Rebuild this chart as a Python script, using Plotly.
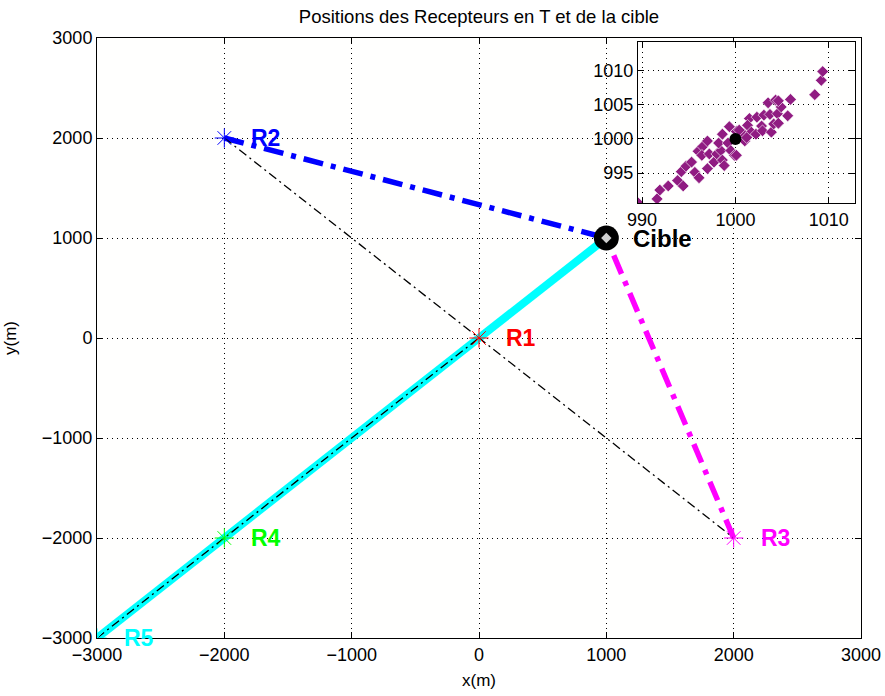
import plotly.graph_objects as go

# --- data ---
rec_names = ["R1", "R2", "R3", "R4", "R5"]
rec_x = [0, -2000, 2000, -2000, -3000]
rec_y = [0, 2000, -2000, -2000, -3000]
rec_colors = ["#ff0000", "#0000ff", "#ff00ff", "#00ff00", "#00ffff"]

cible_name = "Cible"
cible_x = 1000
cible_y = 1000

# receivers linked to the target by thick lines
link_names = ["R5", "R2", "R3"]
link_dash = ["solid", "20px,8px,5px,8px", "20px,8px,5px,8px"]

# thin black dash-dot lines (pairs of receivers)
thin_pairs = [("R2", "R3"), ("R5", "R1")]

# inset: estimated target positions
est_x = [989.5, 991.6, 991.9, 992.8, 993.8, 994.4, 994.2, 994.7, 995.3, 995.65,
         996.1, 996.0, 996.5, 997.0, 996.4, 997.2, 997.0, 997.7, 998.0, 998.45,
         998.6, 998.8, 998.2, 998.6, 999.35, 999.2, 999.5, 999.9, 1000.6, 1000.1,
         1000.1, 1001.0, 1000.9, 1001.5, 1001.3, 1001.7, 1002.2, 1002.3, 1002.8, 1003.05,
         1002.9, 1003.5, 1003.7, 1003.85, 1004.1, 1004.3, 1004.5, 1004.6, 1004.9, 1004.6,
         1005.6, 1005.9, 1008.5, 1009.2, 1009.35, 1000.4, 1001.2]
est_y = [990.7, 991.2, 992.5, 993.1, 993.9, 993.1, 995.2, 996.0, 996.6, 995.1,
         994.3, 998.2, 998.9, 999.7, 997.6, 997.8, 995.65, 996.6, 997.8, 998.3,
         996.9, 996.1, 999.4, 1000.7, 1001.8, 999.4, 998.3, 997.6, 1000.7, 997.6,
         1001.1, 999.7, 1000.7, 1003.0, 1002.0, 1001.0, 1000.7, 1003.2, 1001.9, 1003.5,
         1001.2, 1005.3, 1003.6, 1001.0, 1002.2, 1005.7, 1003.7, 1002.3, 1004.7, 1005.6,
         1003.4, 1005.8, 1006.5, 1008.6, 1009.9, 1001.3, 1000.2]

main_ticks = [-3000, -2000, -1000, 0, 1000, 2000, 3000]
inset_xticks = [990, 1000, 1010]
inset_yticks = [995, 1000, 1005, 1010]

FONT = "Liberation Sans, Arial, Helvetica, sans-serif"
pos = {n: (x, y) for n, x, y in zip(rec_names, rec_x, rec_y)}
col = {n: c for n, c in zip(rec_names, rec_colors)}

fig = go.Figure()

# thick links to the target
for n, d in zip(link_names, link_dash):
    w = 8 if d == "solid" else 5.5
    fig.add_trace(go.Scatter(x=[pos[n][0], cible_x], y=[pos[n][1], cible_y], mode="lines",
                             line=dict(color=col[n], width=w, dash=d), showlegend=False,
                             hoverinfo="skip"))

# thin black dash-dot
for a, b in thin_pairs:
    fig.add_trace(go.Scatter(x=[pos[a][0], pos[b][0]], y=[pos[a][1], pos[b][1]], mode="lines",
                             line=dict(color="black", width=1.3, dash="9px,4px,2px,4px"),
                             showlegend=False, hoverinfo="skip"))

# receivers markers
fig.add_trace(go.Scatter(x=rec_x, y=rec_y, mode="markers",
                         marker=dict(symbol="asterisk-open", size=16, color=rec_colors,
                                     line=dict(color=rec_colors, width=1)),
                         showlegend=False, hoverinfo="skip"))

# target
fig.add_trace(go.Scatter(x=[cible_x], y=[cible_y], mode="markers",
                         marker=dict(symbol="circle", size=25, color="black"),
                         showlegend=False, hoverinfo="skip"))
fig.add_trace(go.Scatter(x=[cible_x], y=[cible_y], mode="markers",
                         marker=dict(symbol="diamond", size=8, color="#cfcfcf"),
                         showlegend=False, hoverinfo="skip"))

# labels
for n, x, y, c in zip(rec_names, rec_x, rec_y, rec_colors):
    fig.add_annotation(x=x + 195, y=y, xref="x", yref="y", text="<b>" + n + "</b>",
                       showarrow=False, xanchor="left", yanchor="middle",
                       font=dict(family=FONT, size=23, color=c))
fig.add_annotation(x=cible_x + 195, y=cible_y, xref="x", yref="y", text="<b>" + cible_name + "</b>",
                   showarrow=False, xanchor="left", yanchor="middle",
                   font=dict(family=FONT, size=24, color="black"))

# inset
fig.add_trace(go.Scatter(x=est_x, y=est_y, mode="markers", xaxis="x2", yaxis="y2",
                         marker=dict(symbol="diamond", size=9, color="#901c82",
                                     line=dict(color="white", width=0.6)),
                         showlegend=False, hoverinfo="skip"))
fig.add_trace(go.Scatter(x=[cible_x], y=[cible_y], mode="markers", xaxis="x2", yaxis="y2",
                         marker=dict(symbol="circle", size=12, color="black"),
                         showlegend=False, hoverinfo="skip"))

axis_common = dict(showline=True, linecolor="black", linewidth=1, mirror="ticks",
                   ticks="inside", tickcolor="black", ticklen=6, showgrid=True,
                   gridcolor="black", gridwidth=1, griddash="1px,4px", zeroline=False,
                   automargin=False,
                   tickfont=dict(family=FONT, size=18, color="black"))

fig.update_layout(
    width=885, height=696,
    margin=dict(l=97, r=24, t=38, b=58),
    paper_bgcolor="white", plot_bgcolor="#fffffe",
    title=dict(text="Positions des Recepteurs en T et de la cible", x=0.5, xref="paper",
               y=1 - 17 / 696, yref="container", xanchor="center", yanchor="middle",
               font=dict(family=FONT, size=18.5, color="black")),
    xaxis=dict(range=[-3000, 3000], tickvals=main_ticks, domain=[0, 1],
               title=dict(text="x(m)", font=dict(family=FONT, size=17, color="black"), standoff=10),
               **axis_common),
    yaxis=dict(range=[-3000, 3000], tickvals=main_ticks, domain=[0, 1],
               title=dict(text="y(m)", font=dict(family=FONT, size=17, color="black"), standoff=20),
               **axis_common),
    xaxis2=dict(range=[989.55, 1012.8], tickvals=inset_xticks, domain=[0.708, 0.992],
                anchor="y2", **axis_common),
    yaxis2=dict(range=[990.6, 1014.2], tickvals=inset_yticks, domain=[0.725, 0.993],
                anchor="x2", **axis_common),
    showlegend=False,
)

fig.write_html("out.html")
